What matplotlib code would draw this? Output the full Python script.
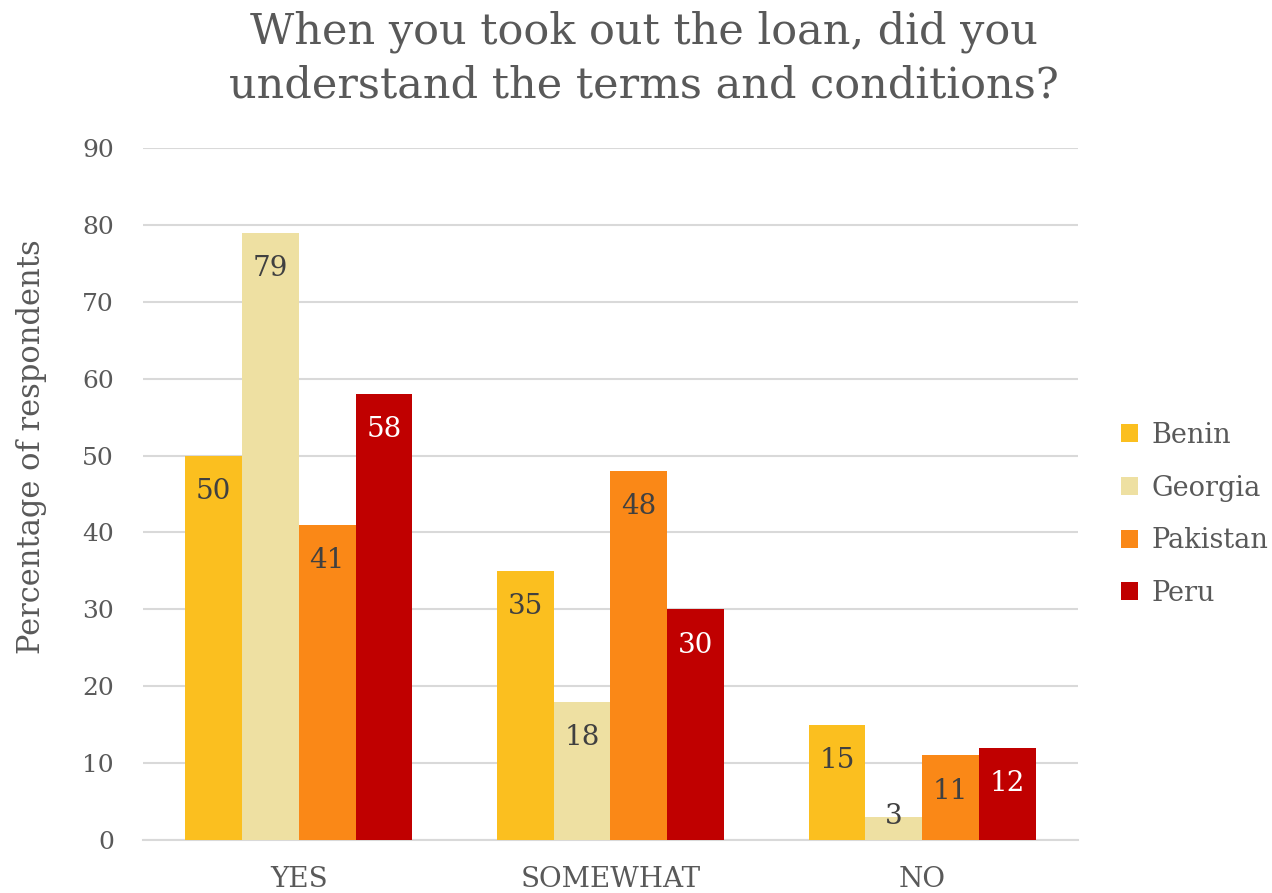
import matplotlib
matplotlib.use("Agg")
import matplotlib.pyplot as plt
import numpy as np
from matplotlib.patches import Patch

categories = ["YES", "SOMEWHAT", "NO"]
countries = ["Benin", "Georgia", "Pakistan", "Peru"]
benin = [50, 35, 15]
georgia = [79, 18, 3]
pakistan = [41, 48, 11]
peru = [58, 30, 12]
yticks = [0, 10, 20, 30, 40, 50, 60, 70, 80, 90]

series = [benin, georgia, pakistan, peru]
colors = ["#FBBF1F", "#EEE0A2", "#FA8817", "#C00000"]
label_colors = ["#404040", "#404040", "#404040", "#FFFFFF"]
text_gray = "#595959"
font = "DejaVu Serif"

fig = plt.figure(figsize=(12.72, 8.93), dpi=100)
ax = fig.add_axes([0.1124, 0.0594, 0.8475 - 0.1124, 0.8343 - 0.0594])

x = np.arange(len(categories))
w = 0.182
for i, (vals, c, lc) in enumerate(zip(series, colors, label_colors)):
    pos = x + (i - 1.5) * w
    bars = ax.bar(pos, vals, width=w, color=c, zorder=3)
    for b, v in zip(bars, vals):
        cx = b.get_x() + b.get_width() / 2
        if v < 8:
            # too short for an inside label: centre on the bar top
            ax.annotate(str(v), xy=(cx, v), xytext=(0, 0), textcoords="offset points",
                        ha="center", va="center", fontsize=20, color=lc,
                        family=font, zorder=4)
        else:
            ax.annotate(str(v), xy=(cx, v), xytext=(0, -16), textcoords="offset points",
                        ha="center", va="top", fontsize=20, color=lc,
                        family=font, zorder=4)

ax.set_xlim(-0.5, 2.5)
ax.set_ylim(0, 90)
ax.set_yticks(yticks)
ax.set_yticklabels([str(t) for t in yticks], family=font, fontsize=18, color=text_gray)
ax.set_xticks(x)
ax.set_xticklabels(categories, family=font, fontsize=20, color=text_gray)
ax.tick_params(axis="y", length=0, pad=21)
ax.tick_params(axis="x", length=0, pad=19)
ax.grid(axis="y", color="#D9D9D9", linewidth=1.5, zorder=0)
for s in ["top", "right", "left"]:
    ax.spines[s].set_visible(False)
ax.spines["bottom"].set_color("#D9D9D9")
ax.spines["bottom"].set_linewidth(1.5)
ax.set_axisbelow(True)

ax.set_ylabel("Percentage of respondents", family=font, fontsize=22, color=text_gray, labelpad=25)
ax.yaxis.label.set_y(0.568)

fig.text(0.506, 0.935,
         "When you took out the loan, did you\nunderstand the terms and conditions?",
         ha="center", va="center", family=font, fontsize=31, color=text_gray,
         linespacing=1.35)

handles = [Patch(facecolor=c, edgecolor="none") for c in colors]
leg = fig.legend(handles, countries, loc="center left", bbox_to_anchor=(0.881, 0.424),
                 frameon=False, prop={"family": font, "size": 19.5},
                 handlelength=0.65, handleheight=0.65, handletextpad=0.5,
                 labelspacing=0.95, borderpad=0, borderaxespad=0)
for t in leg.get_texts():
    t.set_color(text_gray)

fig.savefig("out.png", dpi=100, facecolor="white")
